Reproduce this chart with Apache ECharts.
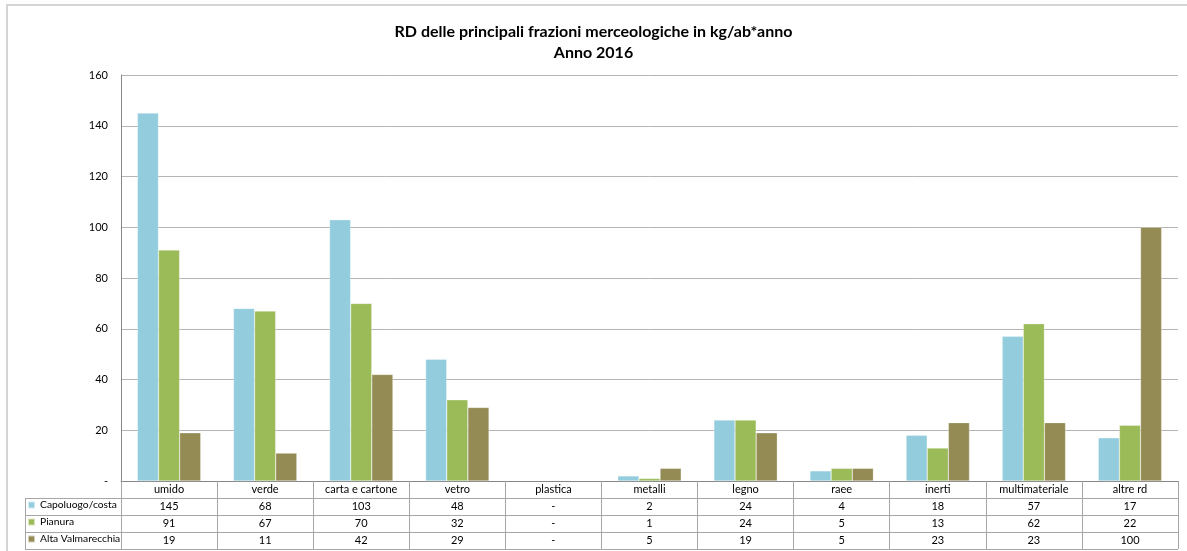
<!DOCTYPE html>
<html>
<head>
<meta charset="utf-8">
<script src="https://cdn.jsdelivr.net/npm/echarts@6/dist/echarts.min.js"></script>
<style>
html,body{margin:0;padding:0;background:#fff;}
#chart{width:1187px;height:551px;}
</style>
</head>
<body>
<div id="chart"></div>
<script>
const categories = ['umido','verde','carta e cartone','vetro','plastica','metalli','legno','raee','inerti','multimateriale','altre rd'];
const seriesNames = ['Capoluogo/costa','Pianura','Alta Valmarecchia'];
const capoluogo = [145, 68, 103, 48, null, 2, 24, 4, 18, 57, 17];
const pianura   = [91, 67, 70, 32, null, 1, 24, 5, 13, 62, 22];
const altaValm  = [19, 11, 42, 29, null, 5, 19, 5, 23, 23, 100];
const yTicks = [0, 20, 40, 60, 80, 100, 120, 140, 160];

const colors = ['#93CDDD', '#9BBB59', '#948A54'];
const FONT = 'Lato, "Open Sans", sans-serif';

const W = 1187, H = 551;
const gridLeft = 121, gridRight = 9, gridTop = 75, gridBottom = 70;
const axisY = H - gridBottom;
const rowH = 17;
const labelColLeft = 25;

const seriesData = [capoluogo, pianura, altaValm];
const fmt = v => (v === null || v === undefined) ? '-' : String(v);

const chart = echarts.init(document.getElementById('chart'), null, {renderer: 'canvas'});

const legends = seriesNames.map((n, i) => ({
  data: [n],
  left: labelColLeft + 2,
  top: axisY + rowH * (i + 1) + 2,
  orient: 'vertical',
  icon: 'rect',
  itemWidth: 7,
  itemHeight: 7,
  itemGap: 0,
  padding: 0,
  selectedMode: false,
  textStyle: {fontFamily: FONT, fontSize: 10.3, color: '#000'}
}));

const graphics = [
  {type: 'rect', silent: true, shape: {x: 7, y: 5, width: 1300, height: 700},
   style: {fill: 'none', stroke: '#c8c8c8', lineWidth: 1.5}}
];
for (let i = 1; i <= 4; i++) {
  const y = axisY + rowH * i + 0.5;
  graphics.push({type: 'line', silent: true,
    shape: {x1: labelColLeft, y1: y, x2: W - gridRight, y2: y},
    style: {stroke: '#a6a6a6', lineWidth: 1}});
}
graphics.push({type: 'line', silent: true,
  shape: {x1: labelColLeft + 0.5, y1: axisY + rowH, x2: labelColLeft + 0.5, y2: axisY + rowH * 4 + 0.5},
  style: {stroke: '#a6a6a6', lineWidth: 1}});

const option = {
  backgroundColor: '#fff',
  animation: false,
  color: colors,
  title: {
    text: 'RD delle principali frazioni merceologiche in kg/ab*anno\nAnno 2016',
    left: 'center',
    top: 16,
    textStyle: {fontFamily: FONT, fontSize: 16, fontWeight: 'bold', color: '#000', lineHeight: 21}
  },
  legend: legends,
  grid: {left: gridLeft, right: gridRight, top: gridTop, bottom: gridBottom, containLabel: false},
  xAxis: {
    type: 'category',
    data: categories,
    axisLine: {show: true, lineStyle: {color: '#868686', width: 1}},
    axisTick: {show: true, length: rowH * 4, lineStyle: {color: '#a6a6a6'}},
    axisLabel: {
      interval: 0,
      margin: 0,
      fontFamily: FONT,
      fontSize: 11,
      color: '#000',
      lineHeight: rowH,
      formatter: function (v, idx) {
        return [v, fmt(capoluogo[idx]), fmt(pianura[idx]), fmt(altaValm[idx])].join('\n');
      }
    }
  },
  yAxis: {
    type: 'value',
    min: yTicks[0],
    max: yTicks[yTicks.length - 1],
    interval: yTicks[1] - yTicks[0],
    axisLine: {show: true, lineStyle: {color: '#868686'}},
    axisTick: {show: false},
    splitLine: {show: true, lineStyle: {color: '#b4b4b4'}},
    axisLabel: {
      margin: 13,
      fontFamily: FONT,
      fontSize: 11,
      color: '#000',
      formatter: v => v === 0 ? '-' : String(v)
    }
  },
  series: seriesNames.map((n, i) => ({
    name: n,
    type: 'bar',
    data: seriesData[i],
    barGap: '0%',
    barCategoryGap: '34%',
    itemStyle: {color: colors[i], borderColor: 'rgba(255,255,255,0.6)', borderWidth: 0.5}
  })),
  graphic: graphics
};
chart.setOption(option);
</script>
</body>
</html>
